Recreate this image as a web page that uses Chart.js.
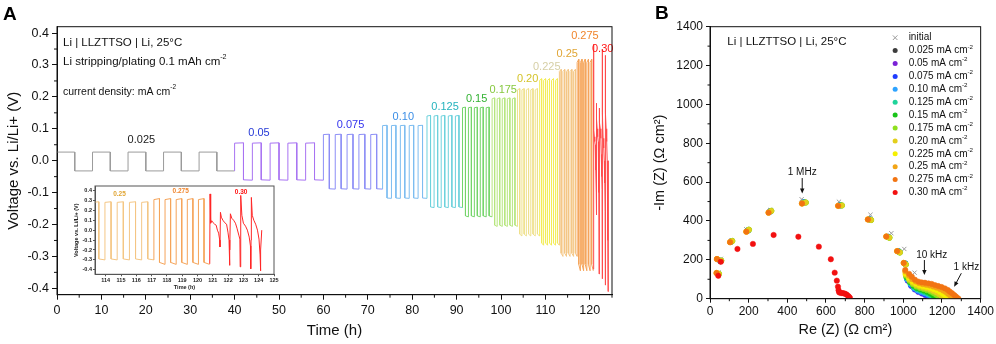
<!DOCTYPE html>
<html>
<head>
<meta charset="utf-8">
<script src="https://cdn.jsdelivr.net/npm/chart.js@4.4.0/dist/chart.umd.min.js"></script>
<style>
html,body{margin:0;padding:0;background:#fff;}
body{width:996px;height:344px;position:relative;overflow:hidden;}
.box{position:absolute;}
#boxA{left:0;top:0;width:640px;height:344px;}
#boxIn{left:70px;top:180px;width:210px;height:115px;}
#boxB{left:640px;top:0;width:356px;height:344px;}
</style>
</head>
<body>
<div class="box" id="boxA"><canvas id="chartA"></canvas></div>
<div class="box" id="boxIn"><canvas id="chartIn"></canvas></div>
<div class="box" id="boxB"><canvas id="chartB"></canvas></div>
<script>
/* Li | LLZTTSO | Li — stripping/plating (A) and EIS (B) */
const FONT='"Liberation Sans", Arial, sans-serif';
Chart.defaults.font.family=FONT;

// ---- A: voltage profile, one square-wave block per current density ----
const currents=['0.025','0.05','0.075','0.10','0.125','0.15','0.175','0.20','0.225','0.25','0.275','0.30'];
const halfCycle=[4,2,1.333,1,0.8,0.667,0.571,0.5,0.444,0.4,0.364];   // h per half cycle (0.025 .. 0.275)
const cycles=[5,5,5,5,5,5,5,5,5,5,5];
const vHigh=[0.027,0.055,0.082,0.110,0.140,0.166,0.194,0.222,0.252,0.280,0.308];
const vHighEnd=[0.027,0.056,0.083,0.111,0.142,0.168,0.197,0.226,0.257,0.286,0.318];
const vLow=[-0.032,-0.060,-0.088,-0.117,-0.145,-0.173,-0.202,-0.230,-0.258,-0.290,-0.325];
const vLowEnd=[-0.032,-0.061,-0.089,-0.118,-0.147,-0.176,-0.206,-0.236,-0.265,-0.300,-0.345];
// 0.30 mA cm-2 block is irregular
const t030=[120.80,120.82,120.86,120.93,121.02,121.12,121.22,121.30,121.38,121.45,121.47,121.50,121.56,121.66,121.78,121.90,121.99,122.06,122.09,122.12,122.15,122.24,122.36,122.48,122.58,122.70,122.77,122.79,122.81,122.84,122.90,123.00,123.14,123.26,123.38,123.46,123.48,123.50,123.52,123.58,123.68,123.80,123.92,124.02,124.09,124.11,124.14,124.20];
const v030=[-0.34,0.365,0.07,0.095,0.075,0.06,0.05,0.0,-0.03,-0.1,-0.17,0.18,0.13,0.1,0.075,0.06,-0.02,-0.1,-0.355,-0.2,0.165,0.12,0.1,0.07,0.02,-0.05,-0.09,-0.37,-0.1,0.35,0.15,0.07,0.04,0.0,-0.07,-0.16,-0.39,-0.1,0.33,0.15,0.1,0.06,0.0,-0.09,-0.25,-0.41,-0.2,0.0];

const lineColors=['#9b9b9b','#a873f2','#8c8ef6','#7dbdf0','#6dd2dc','#74d56a','#b7e67f','#efe08c','#f3ec57','#f4c684','#f5a45a','#ff4b4b'];
const labelColors=['#1a1a1a','#2438d6','#3434ee','#3b8ee6','#25b3bd','#33b233','#86c83e','#d4c329','#d6cfa6','#e0a534','#f0852c','#ff1414'];
// label anchors (time h, voltage V)
const labelPos=[[19,0.065],[45.5,0.087],[66.1,0.112],[78,0.136],[87.4,0.167],[94.5,0.193],[100.5,0.222],[106,0.256],[110.3,0.295],[114.9,0.334],[118.9,0.391],[122.9,0.349]];
const insetLabelPos={9:[114.9,0.364],10:[118.9,0.388],11:[122.85,0.381]};

// ---- B: Nyquist data [Re, -Im] in ohm cm2 ----
const eisNames=['initial','0.025','0.05','0.075','0.10','0.125','0.15','0.175','0.20','0.225','0.25','0.275','0.30'];
const eisColors=['#9a9a9a','#3c3c3c','#7b22d6','#1f3cff','#2ea3ff','#1fd49a','#19c419','#8fe01e','#e3cf1c','#f5f000','#f2a516','#f27412','#f21010'];
const hfInitial=[[44,135],[56,205],[112,300],[188,357],[312,456],[474,512],[667,499],[830,432],[938,337],[1005,256],[1058,134]];
const hfCool=[[42,126],[54,194],[110,294],[196,351],[311,449],[486,496],[673,481],[826,408],[921,318],[976,243],[1009,181]];
const hfGreen=[[46,128],[58,196],[115,297],[201,355],[317,452],[495,495],[682,480],[833,405],[928,314],[982,238],[1013,176]];
const hfWarm=[[34,132],[36,204],[104,291],[188,345],[303,443],[476,490],[663,478],[817,408],[912,320],[968,245],[1002,184]];
const tail025=[[1022,98],[1040,71],[1058,53],[1076,41],[1094,33],[1111,25],[1128,17],[1144,9],[1156,3]];
const tail05=[[1024,92],[1042,65],[1060,47],[1078,35],[1096,27],[1113,19],[1130,11],[1144,4],[1152,0]];
const tail075=[[1022,95],[1040,68],[1058,50],[1076,38],[1095,30],[1112,22],[1129,14],[1146,6],[1158,1]];
const tail10=[[1020,100],[1038,74],[1056,54],[1074,42],[1092,35],[1110,28],[1128,20],[1144,12],[1156,5],[1163,0]];
const tail125=[[1018,106],[1036,80],[1054,60],[1072,49],[1090,42],[1108,35],[1126,27],[1142,18],[1155,10],[1165,3],[1170,0]];
const tail15=[[1016,112],[1034,86],[1052,67],[1070,55],[1088,48],[1106,42],[1124,35],[1140,27],[1154,18],[1166,10],[1176,3],[1180,0]];
const tail175=[[1014,118],[1032,92],[1050,74],[1068,62],[1086,55],[1104,50],[1122,44],[1140,37],[1156,29],[1170,20],[1182,11],[1192,4],[1197,0]];
const tail20=[[1012,125],[1030,100],[1048,82],[1066,70],[1084,63],[1102,58],[1120,53],[1138,47],[1156,40],[1172,32],[1186,23],[1198,14],[1208,6],[1214,1]];
const tail225=[[1012,130],[1030,108],[1048,90],[1066,78],[1084,70],[1102,65],[1120,61],[1138,56],[1156,50],[1174,43],[1190,35],[1204,26],[1216,17],[1226,9],[1233,2]];
const tail25=[[1010,140],[1030,118],[1046,100],[1064,88],[1082,80],[1100,75],[1118,72],[1136,68],[1154,63],[1172,57],[1190,50],[1206,42],[1220,34],[1232,25],[1243,16],[1252,8],[1258,2]];
const tail275=[[1010,148],[1030,128],[1044,113],[1060,98],[1078,88],[1095,84],[1112,82],[1130,79],[1147,76],[1164,70],[1181,65],[1198,60],[1215,53],[1230,45],[1241,36],[1252,28],[1263,19],[1272,11],[1280,4],[1285,0]];
const eis030=[[43,118],[56,190],[142,256],[222,282],[329,328],[457,319],[563,268],[625,203],[645,134],[656,93],[662,62],[665,44],[668,33],[674,30],[682,29],[690,28],[698,26],[706,22],[713,16],[719,10],[724,4]];

// ---------- helpers ----------
function richText(ctx,parts,x,y,size,color,weight){
  ctx.fillStyle=color;ctx.textBaseline='middle';ctx.textAlign='left';
  let cx=x;
  parts.forEach(p=>{
    const sup=Array.isArray(p);const s=sup?p[0]:p;const fs=sup?size*0.62:size;
    ctx.font=(weight||'normal')+' '+fs+'px '+FONT;
    ctx.fillText(s,cx,sup?y-size*0.38:y);
    cx+=ctx.measureText(s).width;
  });
}
function toXY(arr){return arr.map(p=>({x:p[0],y:p[1]}));}

// frame box + minor ticks
const frame={id:'frame',afterDraw(chart,args,o){
  const {ctx,chartArea:a,scales}=chart;
  ctx.save();ctx.strokeStyle=o.color;ctx.lineWidth=1;
  ctx.strokeRect(a.left,a.top,a.right-a.left,a.bottom-a.top);
  if(o.mx){
    ctx.beginPath();
    const xs=scales.x,ys=scales.y;
    for(let k=Math.ceil(xs.min/o.mx);k*o.mx<=xs.max+1e-9;k++){
      if(k%2===0)continue;const px=xs.getPixelForValue(k*o.mx);
      ctx.moveTo(px,a.bottom);ctx.lineTo(px,a.bottom+o.ml);
    }
    for(let k=Math.ceil(ys.min/o.my-1e-9);k*o.my<=ys.max+1e-9;k++){
      if(k%2===0)continue;const py=ys.getPixelForValue(k*o.my);
      ctx.moveTo(a.left,py);ctx.lineTo(a.left-o.ml,py);
    }
    ctx.stroke();
  }
  ctx.restore();
}};

// ---------- A datasets ----------
const dsA=[];
let tStart=0;
for(let i=0;i<11;i++){
  const pts=[];let t=tStart;
  if(i>0)pts.push({x:t,y:vLowEnd[i-1]});
  for(let c=0;c<cycles[i];c++){
    pts.push({x:t,y:vHigh[i]});t+=halfCycle[i];pts.push({x:t,y:vHighEnd[i]});
    pts.push({x:t,y:vLow[i]});t+=halfCycle[i];pts.push({x:t,y:vLowEnd[i]});
  }
  dsA.push({label:currents[i],data:pts,borderColor:lineColors[i],order:12-i});
  tStart=t;
}
dsA.push({label:currents[11],data:t030.map((t,k)=>({x:t,y:v030[k]})),borderColor:lineColors[11],order:0});

const annA={id:'annA',afterDatasetsDraw(chart){
  const {ctx,chartArea:a,scales:{x,y}}=chart;
  ctx.save();
  richText(ctx,['Li | LLZTTSO | Li, 25°C'],a.left+6,a.top+16.5,11.5,'#111');
  richText(ctx,['Li stripping/plating 0.1 mAh cm',['-2']],a.left+6,a.top+35,11.5,'#111');
  richText(ctx,['current density: mA cm',['-2']],a.left+6,a.top+65,10.5,'#111');
  ctx.font='11px '+FONT;ctx.textAlign='center';ctx.textBaseline='middle';
  currents.forEach((c,i)=>{ctx.fillStyle=labelColors[i];ctx.fillText(c,x.getPixelForValue(labelPos[i][0]),y.getPixelForValue(labelPos[i][1]));});
  ctx.font='bold 19px '+FONT;ctx.fillStyle='#000';ctx.textAlign='left';ctx.textBaseline='alphabetic';
  ctx.fillText('A',3,20);
  ctx.restore();
}};

const tickFont={size:12.5};
new Chart(document.getElementById('chartA'),{
  type:'line',
  data:{datasets:dsA},
  options:{responsive:true,maintainAspectRatio:false,animation:false,events:[],
    layout:{padding:{left:0,top:26.7,right:28,bottom:0}},
    elements:{point:{radius:0},line:{borderWidth:1,tension:0}},
    plugins:{legend:{display:false},tooltip:{enabled:false},frame:{color:'#111',mx:5,my:0.05,ml:3}},
    scales:{
      x:{type:'linear',min:0,max:125,afterFit(s){s.height=49.3;},
        ticks:{stepSize:10,includeBounds:false,autoSkip:false,maxRotation:0,color:'#111',font:tickFont,padding:3},
        grid:{drawOnChartArea:false,tickLength:5,color:'#111'},border:{color:'#111'},
        title:{display:true,text:'Time (h)',color:'#111',font:{size:15},padding:{top:0,bottom:4}}},
      y:{type:'linear',min:-0.42,max:0.42,afterFit(s){s.width=57;},
        ticks:{stepSize:0.1,includeBounds:false,autoSkip:false,color:'#111',font:tickFont,padding:3,callback:v=>v.toFixed(1)},
        grid:{drawOnChartArea:false,tickLength:5,color:'#111'},border:{color:'#111'},
        title:{display:true,text:'Voltage vs. Li/Li+ (V)',color:'#111',font:{size:15},padding:{top:4.5,bottom:0}}}
    }},
  plugins:[frame,annA]
});

// ---------- inset ----------
const dsIn=[9,10,11].map(i=>({label:currents[i],data:dsA[i].data,borderColor:i===11?'#ff2626':lineColors[i],order:11-i}));
const annIn={id:'annIn',afterDatasetsDraw(chart){
  const {ctx,scales:{x,y}}=chart;
  ctx.save();ctx.font='bold 6.5px '+FONT;ctx.textAlign='center';ctx.textBaseline='middle';
  Object.keys(insetLabelPos).forEach(k=>{const p=insetLabelPos[k];ctx.fillStyle=labelColors[k];ctx.fillText(currents[k],x.getPixelForValue(p[0]),y.getPixelForValue(p[1]));});
  ctx.restore();
}};
const inFont={size:5.5,weight:'bold'};
new Chart(document.getElementById('chartIn'),{
  type:'line',
  data:{datasets:dsIn},
  options:{responsive:true,maintainAspectRatio:false,animation:false,events:[],
    layout:{padding:{left:0,top:6,right:6,bottom:0}},
    elements:{point:{radius:0},line:{borderWidth:1,tension:0}},
    plugins:{legend:{display:false},tooltip:{enabled:false},frame:{color:'#555'}},
    scales:{
      x:{type:'linear',min:113.3,max:125,afterFit(s){s.height=20.7;},
        ticks:{stepSize:1,includeBounds:false,autoSkip:false,maxRotation:0,color:'#222',font:inFont,padding:1},
        grid:{drawOnChartArea:false,tickLength:2,color:'#555'},border:{color:'#555'},
        title:{display:true,text:'Time (h)',color:'#222',font:inFont,padding:{top:0,bottom:4.5}}},
      y:{type:'linear',min:-0.445,max:0.445,afterFit(s){s.width=25;},
        ticks:{stepSize:0.1,includeBounds:false,autoSkip:false,color:'#222',font:inFont,padding:1,callback:v=>v.toFixed(1)},
        grid:{drawOnChartArea:false,tickLength:2,color:'#555'},border:{color:'#555'},
        title:{display:true,text:'Voltage vs. Li/Li+ (V)',color:'#222',font:inFont,padding:{top:3.5,bottom:0}}}
    }},
  plugins:[frame,annIn]
});

// ---------- B datasets ----------
const hfFor=[hfInitial,hfCool,hfCool,hfCool,hfCool,hfCool,hfGreen,hfGreen,hfGreen,hfWarm,hfWarm,hfWarm];
const tails=[[],tail025,tail05,tail075,tail10,tail125,tail15,tail175,tail20,tail225,tail25,tail275];
const dsB=eisNames.map((n,i)=>{
  const pts=i===12?eis030:hfFor[i].concat(tails[i]);
  const init=i===0;
  return {label:n,data:toXY(pts),order:12-i,
    pointStyle:init?'crossRot':'circle',pointRadius:init?3:2.7,
    pointBackgroundColor:eisColors[i],pointBorderColor:eisColors[i],pointBorderWidth:init?1:0.5};
});

function arrow(ctx,x1,y1,x2,y2){
  const ang=Math.atan2(y2-y1,x2-x1),h=5;
  ctx.beginPath();ctx.moveTo(x1,y1);ctx.lineTo(x2-Math.cos(ang)*h*0.8,y2-Math.sin(ang)*h*0.8);ctx.stroke();
  ctx.beginPath();ctx.moveTo(x2,y2);
  ctx.lineTo(x2-h*Math.cos(ang)+2.2*Math.sin(ang),y2-h*Math.sin(ang)-2.2*Math.cos(ang));
  ctx.lineTo(x2-h*Math.cos(ang)-2.2*Math.sin(ang),y2-h*Math.sin(ang)+2.2*Math.cos(ang));
  ctx.closePath();ctx.fill();
}
const freqMarks=[{text:'1 MHz',at:[477,650],from:[477,621],to:[477,542]},
  {text:'10 kHz',at:[1147,225],from:[1109,199],to:[1109,122]},
  {text:'1 kHz',at:[1326,162],from:[1300,131],to:[1263,62]}];

const annB={id:'annB',afterDatasetsDraw(chart){
  const {ctx,chartArea:a,scales:{x,y}}=chart;
  ctx.save();
  richText(ctx,['Li | LLZTTSO | Li, 25°C'],a.left+17.3,a.top+15.6,11.5,'#111');
  // legend
  eisNames.forEach((n,i)=>{
    const cy=a.top+11+i*12.9,mx=a.right-85.5;
    ctx.fillStyle=eisColors[i];ctx.strokeStyle=eisColors[i];
    if(i===0){ctx.lineWidth=1;ctx.beginPath();ctx.moveTo(mx-2.3,cy-2.3);ctx.lineTo(mx+2.3,cy+2.3);ctx.moveTo(mx+2.3,cy-2.3);ctx.lineTo(mx-2.3,cy+2.3);ctx.stroke();
      richText(ctx,[n],a.right-72,cy,10,'#111');}
    else{ctx.beginPath();ctx.arc(mx,cy,2.5,0,Math.PI*2);ctx.fill();
      richText(ctx,[n+' mA cm',['-2']],a.right-72,cy,10,'#111');}
  });
  ctx.fillStyle='#111';ctx.strokeStyle='#111';ctx.lineWidth=1;
  freqMarks.forEach(m=>{
    ctx.font='10px '+FONT;ctx.textAlign='center';ctx.textBaseline='middle';
    ctx.fillText(m.text,x.getPixelForValue(m.at[0]),y.getPixelForValue(m.at[1]));
    arrow(ctx,x.getPixelForValue(m.from[0]),y.getPixelForValue(m.from[1]),x.getPixelForValue(m.to[0]),y.getPixelForValue(m.to[1]));
  });
  ctx.font='bold 19px '+FONT;ctx.fillStyle='#000';ctx.textAlign='left';ctx.textBaseline='alphabetic';
  ctx.fillText('B',15,18.5);
  ctx.restore();
}};

const tickFontB={size:12};
new Chart(document.getElementById('chartB'),{
  type:'scatter',
  data:{datasets:dsB},
  options:{responsive:true,maintainAspectRatio:false,animation:false,events:[],
    layout:{padding:{left:0,top:26.7,right:13.3,bottom:0}},
    plugins:{legend:{display:false},tooltip:{enabled:false},frame:{color:'#111',mx:100,my:100,ml:2.5}},
    scales:{
      x:{type:'linear',min:0,max:1400,afterFit(s){s.height=45.3;},
        ticks:{stepSize:200,includeBounds:false,autoSkip:false,maxRotation:0,color:'#111',font:tickFontB,padding:2,callback:v=>String(v)},
        grid:{drawOnChartArea:false,tickLength:4,color:'#111'},border:{color:'#111'},
        title:{display:true,text:'Re (Z) (Ω cm²)',color:'#111',font:{size:14.5},padding:{top:0,bottom:5}}},
      y:{type:'linear',min:0,max:1400,afterFit(s){s.width=70;},
        ticks:{stepSize:200,includeBounds:false,autoSkip:false,color:'#111',font:tickFontB,padding:3,callback:v=>String(v)},
        grid:{drawOnChartArea:false,tickLength:4,color:'#111'},border:{color:'#111'},
        title:{display:true,text:'-Im (Z) (Ω cm²)',color:'#111',font:{size:14.5},padding:{top:11,bottom:0}}}
    }},
  plugins:[frame,annB]
});
</script>
</body>
</html>
